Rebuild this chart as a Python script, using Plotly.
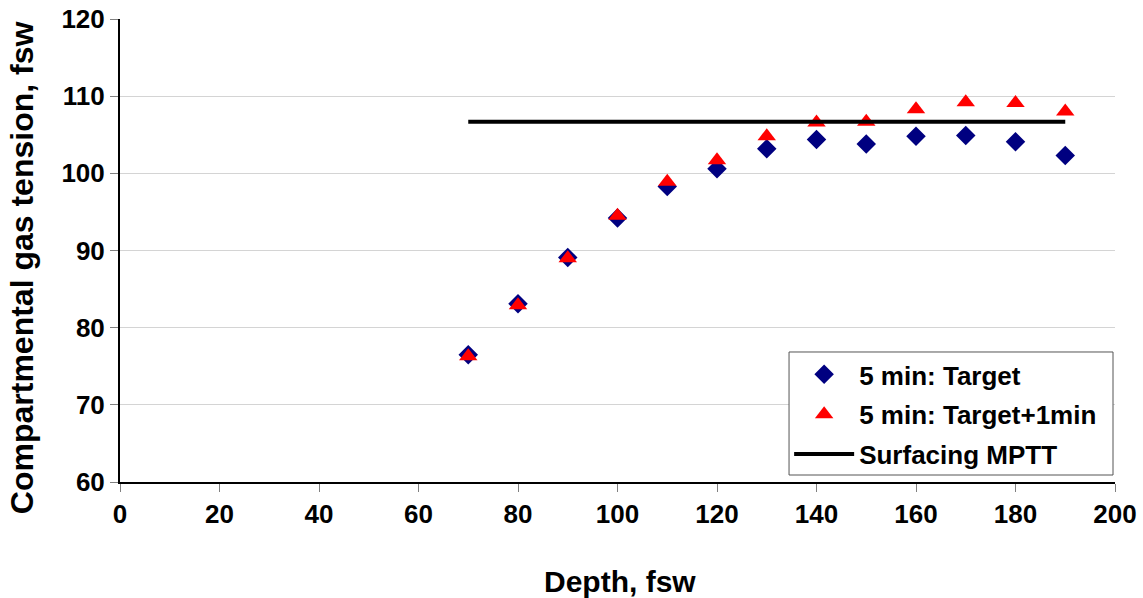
import plotly.graph_objects as go

depth = [70, 80, 90, 100, 110, 120, 130, 140, 150, 160, 170, 180, 190]
target = [76.5, 83.1, 89.1, 94.2, 98.3, 100.6, 103.2, 104.4, 103.8, 104.8, 104.9, 104.1, 102.3]
target_plus1 = [76.3, 82.9, 89.0, 94.5, 98.9, 101.7, 104.8, 106.6, 106.7, 108.3, 109.2, 109.1, 108.0]
mptt_x = [70, 190]
mptt_y = [106.7, 106.7]

font_family = "Liberation Sans, Arial, sans-serif"

fig = go.Figure()
fig.add_trace(go.Scatter(
    x=depth, y=target, mode="markers", name="<b>5 min: Target</b>", legendgroup="a",
    marker=dict(symbol="diamond", size=15, color="#000080"),
))
fig.add_trace(go.Scatter(
    x=depth, y=target_plus1, mode="markers", name="<b>5 min: Target+1min</b>", legendgroup="b",
    marker=dict(symbol="triangle-up", size=16, color="#ff0000"),
))
fig.add_trace(go.Scatter(
    x=mptt_x, y=mptt_y, mode="lines", name="<b>Surfacing MPTT</b>", legendgroup="c",
    line=dict(color="black", width=4),
))

fig.update_layout(
    width=1143, height=598,
    margin=dict(l=120, r=28, t=19, b=116),
    plot_bgcolor="white", paper_bgcolor="white",
    font=dict(family=font_family, size=26, color="black"),
    showlegend=True,
    legend=dict(
        x=0.6725, y=0.283, xanchor="left", yanchor="top",
        bgcolor="rgba(0,0,0,0)", borderwidth=0,
        font=dict(size=26, family=font_family),
        itemwidth=60, traceorder="grouped", tracegroupgap=3,
    ),
    shapes=[
        dict(type="rect", xref="paper", yref="paper",
             x0=0.6724, x1=0.998, y0=0.0151, y1=0.2808,
             line=dict(color="#555555", width=1), fillcolor="white", layer="above"),
    ],
    xaxis=dict(
        range=[0, 200], tickmode="linear", tick0=0, dtick=20,
        showline=True, linecolor="black", linewidth=2,
        ticks="outside", ticklen=8, tickcolor="#808080",
        showgrid=False, zeroline=False, automargin=False,
        tickfont=dict(size=26, family=font_family),
        tickprefix="<b>", ticksuffix="</b>",
    ),
    yaxis=dict(
        range=[60, 120], tickmode="linear", tick0=60, dtick=10,
        showline=True, linecolor="black", linewidth=2,
        ticks="outside", ticklen=8, tickcolor="#808080",
        showgrid=True, gridcolor="#d4d4d4", gridwidth=1, zeroline=False, automargin=False,
        tickfont=dict(size=26, family=font_family),
        tickprefix="<b>", ticksuffix="</b>",
    ),
    annotations=[
        dict(text="<b>Depth, fsw</b>", xref="paper", yref="paper", x=0.503, y=-0.215,
             xanchor="center", yanchor="middle", showarrow=False,
             font=dict(size=30, family=font_family)),
        dict(text="<b>Compartmental gas tension, fsw</b>", xref="paper", yref="paper",
             x=-0.0985, y=0.464, xanchor="center", yanchor="middle", textangle=-90, showarrow=False,
             font=dict(size=32, family=font_family)),
    ],
)

fig.write_html("out.html", config={"displayModeBar": False},
               post_script="document.body.style.margin='0';document.body.style.overflow='hidden';")
